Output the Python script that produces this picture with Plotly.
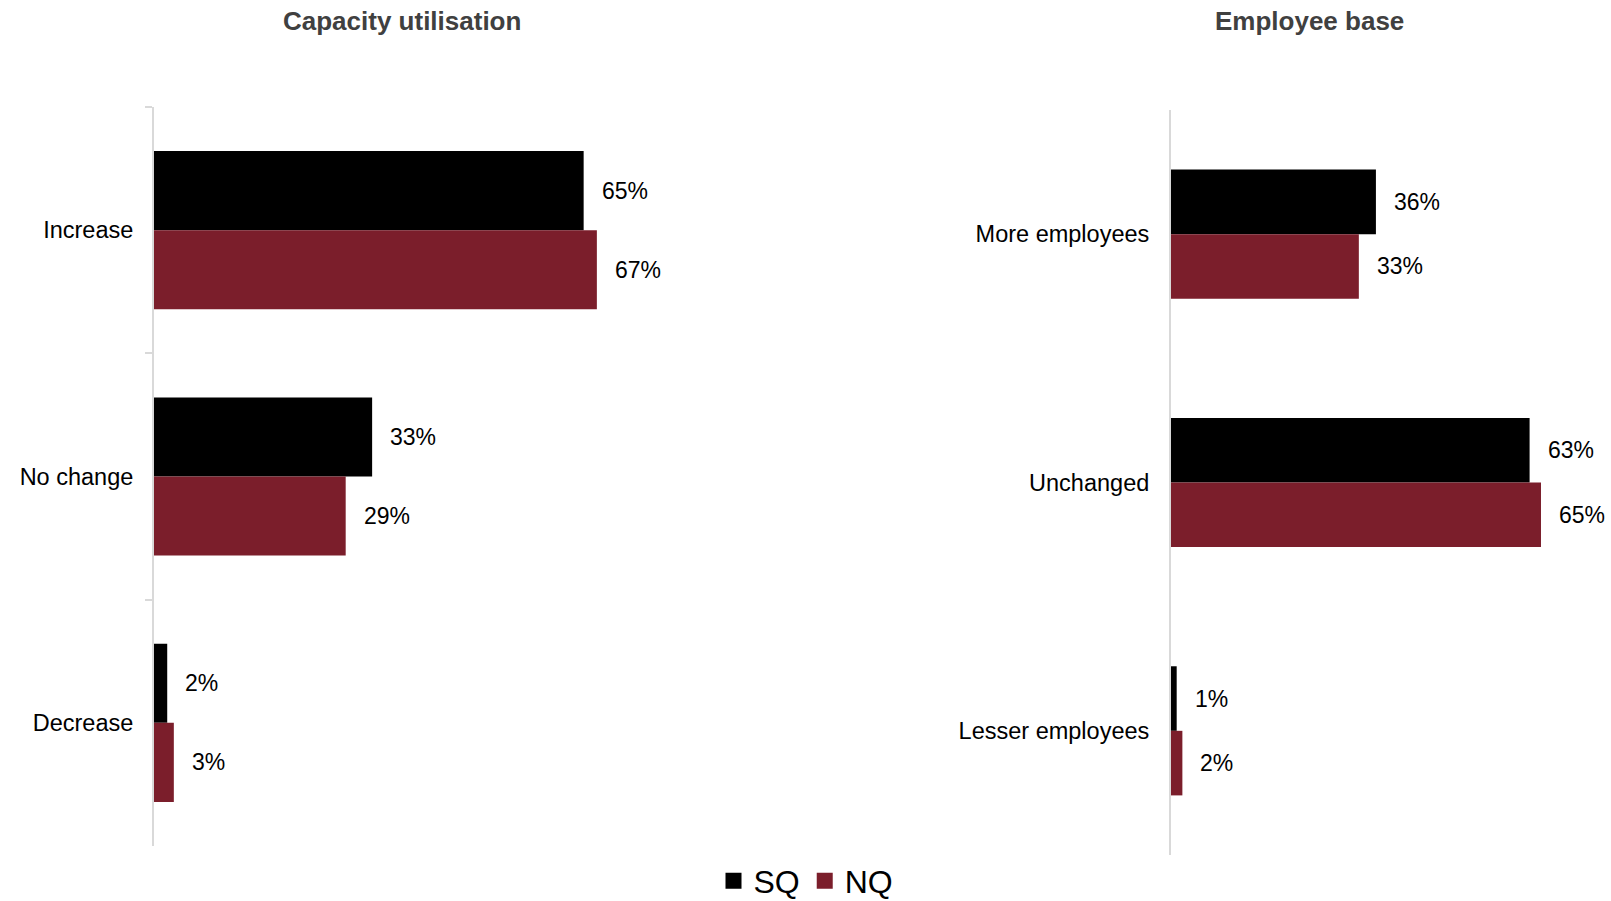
import plotly.graph_objects as go

# Survey results: share of respondents (%) per answer, SQ vs NQ
capacity_categories = ["Increase", "No change", "Decrease"]
capacity_sq = [65, 33, 2]
capacity_nq = [67, 29, 3]

employee_categories = ["More employees", "Unchanged", "Lesser employees"]
employee_sq = [36, 63, 1]
employee_nq = [33, 65, 2]

series_names = ["SQ", "NQ"]
panel_titles = ["Capacity utilisation", "Employee base"]

W, H = 1611, 901
FONT = "Arial, 'Liberation Sans', sans-serif"
SQ_COLOR = "#000000"
NQ_COLOR = "#7B1E2B"
AXIS_COLOR = "#D9D9D9"
TITLE_COLOR = "#404040"

fig = go.Figure()

panels = [
    dict(cats=capacity_categories, sq=capacity_sq, nq=capacity_nq,
         xa="x", ya="y", bw=0.321),
    dict(cats=employee_categories, sq=employee_sq, nq=employee_nq,
         xa="x2", ya="y2", bw=0.26),
]

for p in panels:
    bw = p["bw"]
    series = [
        (series_names[0], p["sq"], SQ_COLOR, -bw),
        (series_names[1], p["nq"], NQ_COLOR, 0.0),
    ]
    for name, vals, color, off in series:
        fig.add_trace(go.Bar(
            y=p["cats"], x=vals, orientation="h", name=name,
            width=bw, offset=off, marker=dict(color=color, line=dict(width=0)),
            xaxis=p["xa"], yaxis=p["ya"], showlegend=False,
            hovertemplate="%{y}: %{x}%<extra>" + name + "</extra>",
        ))
        # value labels placed just past the end of each bar
        for i, v in enumerate(vals):
            fig.add_annotation(
                x=v, y=i + off + bw / 2, xref=p["xa"], yref=p["ya"],
                text=f"{v}%", showarrow=False, xanchor="left", yanchor="middle",
                xshift=16, font=dict(family=FONT, size=23, color="#000000"),
            )

# legend entries with larger square swatches
for name, color in zip(series_names, [SQ_COLOR, NQ_COLOR]):
    fig.add_trace(go.Scatter(
        x=[None], y=[None], mode="markers", name=name,
        marker=dict(symbol="square", size=17, color=color),
        xaxis="x", yaxis="y", showlegend=True, hoverinfo="skip",
    ))

# panel titles
for text, cx in zip(panel_titles, [402, 1309]):
    fig.add_annotation(
        x=cx / W, y=1 - 20.5 / H, xref="paper", yref="paper",
        text=f"<b>{text}</b>", showarrow=False, xanchor="center", yanchor="middle",
        font=dict(family=FONT, size=26, color=TITLE_COLOR),
    )

common_y = dict(
    type="category", showline=True, linecolor=AXIS_COLOR, linewidth=2,
    showgrid=False, zeroline=False, range=[2.5, -0.5],
    tickfont=dict(family=FONT, size=23.5, color="#000000"),
)
common_x = dict(visible=False, showgrid=False, zeroline=False)

fig.update_layout(
    width=W, height=H,
    margin=dict(l=0, r=0, t=0, b=0, autoexpand=False),
    paper_bgcolor="white", plot_bgcolor="white",
    barmode="group",
    xaxis=dict(domain=[154 / W, 815 / W], range=[0, 100], anchor="y", **common_x),
    yaxis=dict(domain=[1 - 846 / H, 1 - 107 / H], anchor="x",
               ticks="outside", tickson="boundaries", ticklen=7,
               tickcolor=AXIS_COLOR, tickwidth=2, ticklabelstandoff=14,
               **common_y),
    xaxis2=dict(domain=[1171 / W, 1.0], range=[0, 77.3], anchor="y2", **common_x),
    yaxis2=dict(domain=[1 - 855 / H, 1 - 110 / H], anchor="x2",
                ticks="", ticklabelstandoff=15, **common_y),
    legend=dict(
        orientation="h", x=806 / W, xanchor="center", y=1 - 881 / H, yanchor="middle",
        font=dict(family=FONT, size=32, color="#000000"),
        bgcolor="rgba(0,0,0,0)", itemsizing="trace",
        borderwidth=0,
    ),
    font=dict(family=FONT),
)

fig.write_html("out.html")
